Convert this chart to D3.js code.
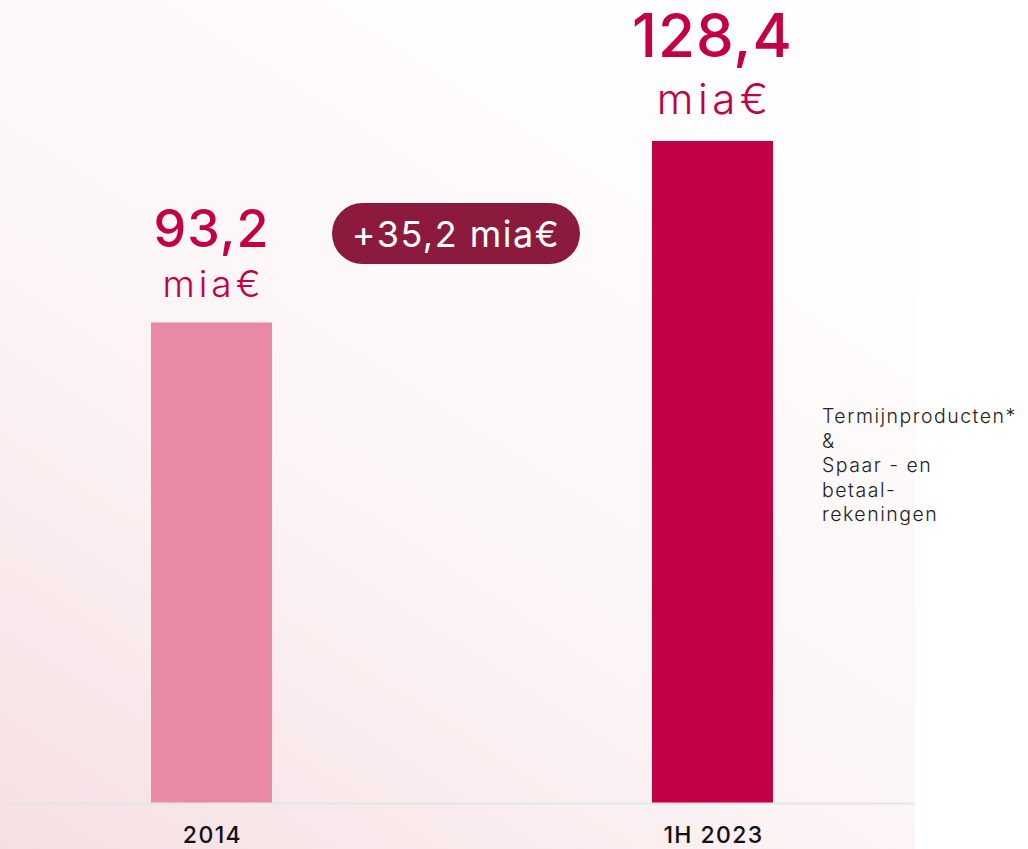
<!DOCTYPE html>
<html>
<head>
<meta charset="utf-8">
<script src="https://cdn.jsdelivr.net/npm/d3@7"></script>
<style>
  html, body { margin: 0; padding: 0; background: #fff; }
  svg { display: block; }
</style>
</head>
<body>
<svg id="chart" width="1028" height="849"></svg>
<script>
// --- Data ---
const categories = ['2014', '1H 2023'];
const values = [93.2, 128.4];
const valueLabels = ['93,2', '128,4'];
const unitLabel = 'mia€';
const diffLabel = '+35,2 mia€';
const legendLines = ['Termijnproducten*', '&', 'Spaar - en', 'betaal-', 'rekeningen'];
const barColors = ['#e98aa5', '#c30045'];

const svg = d3.select('#chart');
const W = 1028, H = 849;
const baseY = 803;
const barW = 121;
const FONT = 'Inter, "Open Sans", sans-serif';

// --- Background gradient ---
const defs = svg.append('defs');
const grad = defs.append('linearGradient')
    .attr('id', 'bg')
    .attr('x1', '0%').attr('y1', '100%')
    .attr('x2', '70%').attr('y2', '0%');
grad.append('stop').attr('offset', '0%').attr('stop-color', '#f6dfe3');
grad.append('stop').attr('offset', '45%').attr('stop-color', '#fcf4f4');
grad.append('stop').attr('offset', '100%').attr('stop-color', '#fffefe');

svg.append('rect').attr('width', W).attr('height', H).attr('fill', '#fff');
svg.append('rect').attr('width', 915).attr('height', H).attr('fill', 'url(#bg)');

// --- Scales ---
const x = d3.scalePoint().domain(categories).range([211.5, 712.5]);
const y = d3.scaleLinear().domain([0, 128.4]).range([baseY, 141]);

// --- Bars ---
svg.append('g').selectAll('rect')
    .data(values)
    .join('rect')
    .attr('x', (d, i) => x(categories[i]) - barW / 2)
    .attr('y', d => y(d))
    .attr('width', barW)
    .attr('height', d => baseY - y(d))
    .attr('fill', (d, i) => barColors[i]);

// --- Baseline ---
svg.append('line')
    .attr('x1', 10).attr('x2', 915)
    .attr('y1', baseY + 0.5).attr('y2', baseY + 0.5)
    .attr('stroke', '#e2e5ea').attr('stroke-width', 2);

// --- Category labels ---
svg.append('g').selectAll('text')
    .data(categories)
    .join('text')
    .attr('x', d => x(d) + 1)
    .attr('y', 843)
    .attr('text-anchor', 'middle')
    .attr('font-family', FONT)
    .attr('font-weight', 500)
    .attr('font-size', 23)
    .attr('letter-spacing', 1.4)
    .attr('fill', '#111')
    .text(d => d);

// --- Value labels ---
const valSizes = [52, 60];
const valBaseline = [247, 57];
const unitSizes = [37, 42];
const unitSpacing = [4, 4.5];
svg.append('g').selectAll('text')
    .data(values)
    .join('text')
    .attr('x', (d, i) => x(categories[i]))
    .attr('y', (d, i) => valBaseline[i])
    .attr('text-anchor', 'middle')
    .attr('font-family', FONT)
    .attr('font-weight', 500)
    .attr('font-size', (d, i) => valSizes[i])
    .attr('letter-spacing', 1)
    .attr('fill', '#c30045')
    .text((d, i) => valueLabels[i]);

svg.append('g').selectAll('text')
    .data(values)
    .join('text')
    .attr('x', (d, i) => x(categories[i]) + unitSpacing[i] / 2)
    .attr('y', (d, i) => y(d) - (i === 0 ? 25 : 27))
    .attr('text-anchor', 'middle')
    .attr('font-family', FONT)
    .attr('font-weight', 300)
    .attr('font-size', (d, i) => unitSizes[i])
    .attr('letter-spacing', (d, i) => unitSpacing[i])
    .attr('fill', '#c30045')
    .text(unitLabel);

// --- Difference pill ---
const pill = svg.append('g');
pill.append('rect')
    .attr('x', 332).attr('y', 203)
    .attr('width', 248).attr('height', 61)
    .attr('rx', 30.5)
    .attr('fill', '#8c1a3d');
pill.append('text')
    .attr('x', 456).attr('y', 247)
    .attr('text-anchor', 'middle')
    .attr('font-family', FONT)
    .attr('font-weight', 400)
    .attr('font-size', 36)
    .attr('letter-spacing', 1.5)
    .attr('fill', '#fff')
    .text(diffLabel);

// --- Side legend text ---
svg.append('g').selectAll('text')
    .data(legendLines)
    .join('text')
    .attr('x', 822)
    .attr('y', (d, i) => 423 + i * 24.5)
    .attr('font-family', FONT)
    .attr('font-weight', 300)
    .attr('font-size', 19.5)
    .attr('letter-spacing', 1.5)
    .attr('fill', '#222')
    .text(d => d);
</script>
</body>
</html>
